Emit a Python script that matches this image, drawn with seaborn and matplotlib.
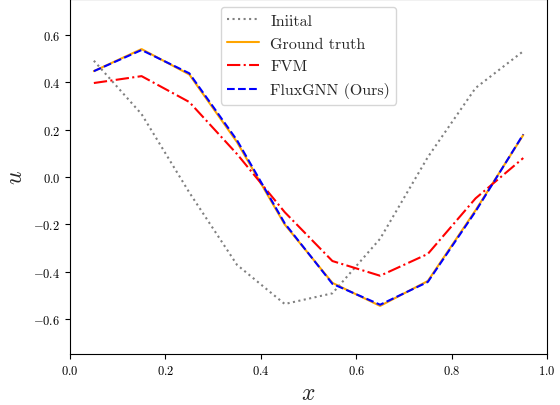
import numpy as np
import pandas as pd
import seaborn as sns
import matplotlib
matplotlib.use("Agg")
import matplotlib.pyplot as plt

x = [0.05, 0.15, 0.25, 0.35, 0.45, 0.55, 0.65, 0.75, 0.85, 0.95]
initial = [0.49, 0.265, -0.065, -0.37, -0.535, -0.49, -0.26, 0.084, 0.375, 0.53]
ground_truth = [0.446, 0.539, 0.432, 0.147, -0.2, -0.446, -0.543, -0.438, -0.14, 0.177]
fvm = [0.396, 0.425, 0.316, 0.097, -0.148, -0.354, -0.416, -0.324, -0.09, 0.08]
fluxgnn = [0.446, 0.535, 0.437, 0.155, -0.195, -0.45, -0.538, -0.442, -0.145, 0.18]

labels = ["Iniital", "Ground truth", "FVM", "FluxGNN (Ours)"]
series = [initial, ground_truth, fvm, fluxgnn]

sns.set_style("ticks")
plt.rcParams["font.family"] = "serif"
plt.rcParams["font.serif"] = ["cmr10", "DejaVu Serif"]
plt.rcParams["mathtext.fontset"] = "cm"
plt.rcParams["axes.formatter.use_mathtext"] = True
plt.rcParams["axes.unicode_minus"] = True

df = pd.DataFrame({
    "x": x * 4,
    "u": sum(series, []),
    "method": sum([[l] * len(x) for l in labels], []),
})

fig = plt.figure(figsize=(5.6, 4.06), dpi=100)
ax = fig.add_axes([0.125, 0.126, 0.852, 0.874])

styles = {
    "Iniital": dict(color="gray", linestyle=":", linewidth=1.5),
    "Ground truth": dict(color="orange", linestyle="-", linewidth=1.5),
    "FVM": dict(color="red", linestyle="-.", linewidth=1.5),
    "FluxGNN (Ours)": dict(color="blue", linestyle="--", linewidth=1.5),
}
for lab in labels:
    sns.lineplot(data=df[df["method"] == lab], x="x", y="u", ax=ax, label=lab,
                 **styles[lab])

ax.set_xlim(0, 1)
ax.set_ylim(-0.745, 0.75)
ax.set_xticks([0.0, 0.2, 0.4, 0.6, 0.8, 1.0])
ax.set_yticks([-0.6, -0.4, -0.2, 0.0, 0.2, 0.4, 0.6])
ax.tick_params(labelsize=9, direction="out", length=3.5, width=0.8, colors="black")
ax.set_xlabel("$x$", fontsize=17)
ax.set_ylabel("$u$", fontsize=17)
for s in ax.spines.values():
    s.set_color("black")
    s.set_linewidth(0.8)
ax.legend(loc="upper center", fontsize=11.5, frameon=True, framealpha=0.8,
          edgecolor="#cccccc", handlelength=2.0, borderaxespad=0.5,
          labelspacing=0.55, handletextpad=0.7)
fig.savefig("out.png", dpi=100)
